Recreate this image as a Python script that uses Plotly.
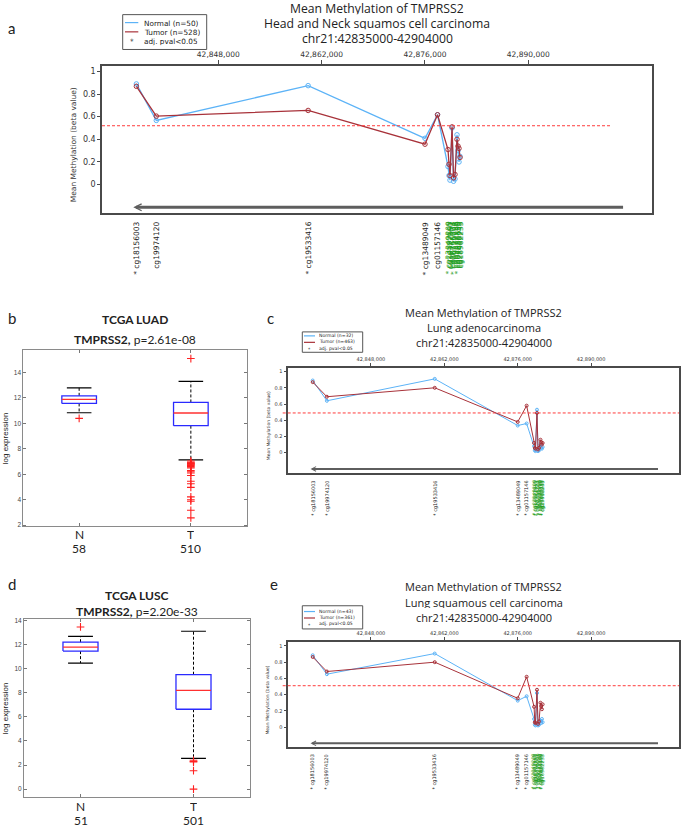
import plotly.graph_objects as go

FIG_W, FIG_H = 685, 826


def fx(p):
    return p / FIG_W


def fy(p):
    return 1 - p / FIG_H


# ---------------- data ----------------
region_start, region_end = 42835000, 42904000
gene_start, gene_end = 42836478, 42903043
genome_ticks = [42848000, 42862000, 42876000, 42890000]
genome_tick_labels = ["42,848,000", "42,862,000", "42,876,000", "42,890,000"]

probe_ids = ["cg18156003", "cg19974120", "cg19533416", "cg13489049", "cg01157146",
             "cg23349209", "cg14597545", "cg16371860", "cg26256223", "cg06795004",
             "cg09279736", "cg04986899", "cg07681350", "cg25416948", "cg16962233"]
probe_pos = [42836900, 42839600, 42860170, 42876000, 42877700,
             42879120, 42879260, 42879390, 42879670, 42879870,
             42880070, 42880340, 42880480, 42880610, 42880750]
probe_in_island = [False, False, False, False, False,
                   True, True, True, True, True, True, True, True, True, True]

hnsc_normal = [0.889, 0.567, 0.874, 0.409, 0.617, 0.16, 0.08, 0.04, 0.50, 0.03, 0.05, 0.44, 0.30, 0.20, 0.25]
hnsc_tumor = [0.868, 0.605, 0.655, 0.357, 0.617, 0.31, 0.18, 0.08, 0.51, 0.06, 0.09, 0.40, 0.34, 0.32, 0.24]
hnsc_sig = [True, False, True, True, False, True, False, False, False, True, False, True, False, False, False]
hnsc_threshold = 0.52
hnsc_n = (50, 528)

luad_normal = [0.89, 0.64, 0.91, 0.335, 0.36, 0.08, 0.03, 0.02, 0.53, 0.02, 0.03, 0.10, 0.06, 0.05, 0.07]
luad_tumor = [0.87, 0.69, 0.80, 0.38, 0.58, 0.12, 0.06, 0.05, 0.49, 0.04, 0.06, 0.16, 0.13, 0.10, 0.12]
luad_sig = [True] * 15
luad_threshold = 0.49
luad_n = (32, 463)

lusc_normal = [0.885, 0.652, 0.906, 0.326, 0.38, 0.10, 0.03, 0.02, 0.42, 0.02, 0.03, 0.08, 0.05, 0.10, 0.06]
lusc_tumor = [0.864, 0.685, 0.80, 0.355, 0.62, 0.25, 0.06, 0.05, 0.46, 0.04, 0.07, 0.30, 0.26, 0.22, 0.28]
lusc_sig = [True] * 15
lusc_threshold = 0.51
lusc_n = (43, 361)

beta_ticks = [0, 0.2, 0.4, 0.6, 0.8, 1]
beta_tick_labels = ["0", "0.2", "0.4", "0.6", "0.8", "1"]

box_groups = ["N", "T"]
luad_counts = [58, 510]
luad_q1 = [11.57, 9.82]
luad_median = [11.89, 10.82]
luad_q3 = [12.17, 11.65]
luad_lower = [10.84, 7.14]
luad_upper = [12.80, 13.30]
luad_out_N = [10.4]
luad_out_T = [15.1, 7.05, 6.95, 6.9, 6.85, 6.8, 6.75, 6.7, 6.6, 6.5, 6.3, 6.2, 6.1, 5.9,
              5.45, 5.25, 4.97, 4.22, 4.0, 3.88, 3.17, 2.57]
luad_p = "2.61e-08"

lusc_counts = [51, 501]
lusc_q1 = [11.47, 6.64]
lusc_median = [11.80, 8.21]
lusc_q3 = [12.21, 9.51]
lusc_lower = [10.48, 2.56]
lusc_upper = [12.70, 13.12]
lusc_out_N = [13.48]
lusc_out_T = [2.4, 2.3, 2.25, 1.53, 0.0]
lusc_p = "2.20e-33"

expr_ticks = [0, 2, 4, 6, 8, 10, 12, 14]

# ---------------- style ----------------
BLUE = "#5cb3f7"
RED = "#a8323a"
GREEN = "#1f9e1f"
FRAME = "#4a4a4a"
TXT = "#222222"
MFONT = "DejaVu Sans"
TFONT = "Open Sans"
BFONT = "Lato"

fig = go.Figure()
layout = dict(width=FIG_W, height=FIG_H, margin=dict(l=0, r=0, t=0, b=0),
              paper_bgcolor="white", plot_bgcolor="white", showlegend=False)
annotations = []
shapes = []

xr = [region_start - 0.04 * (region_end - region_start),
      region_end + 0.04 * (region_end - region_start)]

meth_panels = [
    dict(top=1, probe=2, y=1, box=(102, 64, 652, 212),
         title_y=[6, 21, 36], title_size=12.2, subtitle="Head and Neck squamos cell carcinoma",
         leg_box=(122.7, 12.7, 206.7, 47.7), leg_rows=[20.7, 30, 39], leg_font=7.3,
         leg_line=(125, 138.3), leg_text_x=143, tick_font=7.5, ytick_font=8,
         ytitle_x=73, ytitle_font=7.5, label_top=220, label_font=7.5, msize=4.5,
         ticklen=4, thr_x=(102, 610), arrow_w=3, lw=1.3, frame_w=1.5,
         normal=hnsc_normal, tumor=hnsc_tumor, sig=hnsc_sig, thr=hnsc_threshold, n=hnsc_n),
    dict(top=3, probe=4, y=2, box=(288.3, 367.3, 679, 473.3),
         title_y=[312, 327, 342], title_size=11, subtitle="Lung adenocarcinoma",
         leg_box=(302.3, 331.5, 362.7, 352), leg_rows=[335.5, 342, 348.5], leg_font=4.6,
         leg_line=(304, 315), leg_text_x=318, tick_font=5, ytick_font=5,
         ytitle_x=268, ytitle_font=4.5, label_top=480, label_font=5, msize=3,
         ticklen=3, thr_x=(282.7, 679), arrow_w=2, lw=1.0, frame_w=1.5,
         normal=luad_normal, tumor=luad_tumor, sig=luad_sig, thr=luad_threshold, n=luad_n),
    dict(top=5, probe=6, y=3, box=(288.3, 643, 679, 749),
         title_y=[587, 603, 618], title_size=11, subtitle="Lung squamous cell carcinoma",
         leg_box=(302.3, 606.7, 362.7, 630), leg_rows=[612.5, 619, 625.5], leg_font=4.6,
         leg_line=(304, 315), leg_text_x=318, tick_font=5, ytick_font=5,
         ytitle_x=268, ytitle_font=4.5, label_top=755, label_font=5, msize=3,
         ticklen=3, thr_x=(282.7, 679), arrow_w=2, lw=1.0, frame_w=1.5,
         normal=lusc_normal, tumor=lusc_tumor, sig=lusc_sig, thr=lusc_threshold, n=lusc_n),
]


def axname(letter, i):
    return letter + "axis" + ("" if i == 1 else str(i))


def axref(letter, i):
    return letter + ("" if i == 1 else str(i))


for P in meth_panels:
    x0, y0, x1, y1 = P["box"]
    xt, xp, yy = axref("x", P["top"]), axref("x", P["probe"]), axref("y", P["y"])
    layout[axname("x", P["top"])] = dict(
        domain=[fx(x0), fx(x1)], range=xr, side="top", anchor=yy,
        tickmode="array", tickvals=genome_ticks, ticktext=genome_tick_labels,
        ticks="outside", ticklen=P["ticklen"], tickcolor=FRAME,
        tickfont=dict(family=MFONT, size=P["tick_font"], color="#333"),
        showline=True, mirror=True, linecolor=FRAME, linewidth=P["frame_w"],
        showgrid=False, zeroline=False, fixedrange=True)
    layout[axname("x", P["probe"])] = dict(
        overlaying=xt, side="bottom", anchor=yy, range=xr,
        tickmode="array", tickvals=probe_pos, ticks="outside", ticklen=P["ticklen"],
        tickcolor="#333", showticklabels=False, showline=False, showgrid=False,
        zeroline=False, fixedrange=True)
    layout[axname("y", P["y"])] = dict(
        domain=[fy(y1), fy(y0)], range=[-0.25, 1.05], anchor=xt,
        tickmode="array", tickvals=beta_ticks, ticktext=beta_tick_labels,
        ticks="outside", ticklen=3, tickcolor=FRAME,
        tickfont=dict(family=MFONT, size=P["ytick_font"], color="#333"),
        showline=True, mirror=True, linecolor=FRAME, linewidth=P["frame_w"],
        showgrid=False, zeroline=False, fixedrange=True)

    for vals, col in ((P["normal"], BLUE), (P["tumor"], RED)):
        fig.add_trace(go.Scatter(
            x=probe_pos, y=vals, xaxis=xt, yaxis=yy, mode="lines+markers",
            line=dict(color=col, width=P["lw"]),
            marker=dict(symbol="circle-open", size=P["msize"], color=col, line=dict(width=1)),
            hoverinfo="skip"))

    # threshold
    shapes.append(dict(type="line", xref="paper", yref=yy, x0=fx(P["thr_x"][0]), x1=fx(P["thr_x"][1]),
                       y0=P["thr"], y1=P["thr"], line=dict(color="#ff3b3b", width=1, dash="3px,2px")))
    # gene arrow
    annotations.append(dict(xref=xt, yref=yy, x=gene_start, y=-0.2, axref=xt, ayref=yy,
                            ax=gene_end, ay=-0.2, text="", showarrow=True, arrowhead=5,
                            arrowsize=0.45, arrowwidth=P["arrow_w"], arrowcolor="#5e5e5e", standoff=0))
    # probe labels
    for pid, pos, isl, s in zip(probe_ids, probe_pos, probe_in_island, P["sig"]):
        annotations.append(dict(
            xref=xt, yref="paper", x=pos, y=fy(P["label_top"]), xanchor="center", yanchor="top",
            text=("* " if s else "") + pid, textangle=-90, showarrow=False, borderpad=0,
            font=dict(family=MFONT, size=P["label_font"], color=GREEN if isl else "#222")))
    # titles
    cx = (x0 + x1) / 2
    for txt, ty in zip(["Mean Methylation of TMPRSS2", P["subtitle"], "chr21:42835000-42904000"], P["title_y"]):
        annotations.append(dict(xref="paper", yref="paper", x=fx(cx), y=fy(ty), xanchor="center",
                                yanchor="middle", text=txt, showarrow=False, height=P["title_size"],
                                borderpad=0,
                                font=dict(family=TFONT, size=P["title_size"], color=TXT)))
    # y title
    annotations.append(dict(xref="paper", yref="paper", x=fx(P["ytitle_x"]), y=fy((y0 + y1) / 2 + 6),
                            xanchor="center", yanchor="middle", text="Mean Methylation (beta value)",
                            textangle=-90, showarrow=False,
                            font=dict(family=MFONT, size=P["ytitle_font"], color="#333")))
    # legend
    lx0, ly0, lx1, ly1 = P["leg_box"]
    shapes.append(dict(type="rect", xref="paper", yref="paper", x0=fx(lx0), x1=fx(lx1), y0=fy(ly1), y1=fy(ly0),
                       line=dict(color="#555", width=1), fillcolor="white"))
    la, lb = P["leg_line"]
    for col, ry in ((BLUE, P["leg_rows"][0]), (RED, P["leg_rows"][1])):
        shapes.append(dict(type="line", xref="paper", yref="paper", x0=fx(la), x1=fx(lb), y0=fy(ry), y1=fy(ry),
                           line=dict(color=col, width=1.2)))
    annotations.append(dict(xref="paper", yref="paper", x=fx((la + lb) / 2), y=fy(P["leg_rows"][2] + 1),
                            xanchor="center", yanchor="middle", text="*", showarrow=False,
                            font=dict(family=MFONT, size=P["leg_font"], color="#222")))
    for txt, ry in zip([f"Normal (n={P['n'][0]})", f"Tumor (n={P['n'][1]})", "adj. pval<0.05"], P["leg_rows"]):
        annotations.append(dict(xref="paper", yref="paper", x=fx(P["leg_text_x"]), y=fy(ry),
                                xanchor="left", yanchor="middle", text=txt, showarrow=False,
                                height=P["leg_font"] + 1, borderpad=0,
                                font=dict(family=MFONT, size=P["leg_font"], color="#222")))

# ---------------- box plots ----------------
box_panels = [
    dict(x=7, y=4, box=(23.3, 350, 246.7, 526.7), yr=[1.92, 15.75], title_y=[319, 339],
         label_y=535, count_y=549, name="TCGA LUAD", p=luad_p, counts=luad_counts,
         q1=luad_q1, med=luad_median, q3=luad_q3, lo=luad_lower, hi=luad_upper,
         outs=[luad_out_N, luad_out_T]),
    dict(x=8, y=5, box=(24, 620, 250, 799.3), yr=[-0.69, 14.14], title_y=[596, 612.3],
         label_y=807.5, count_y=821.5, name="TCGA LUSC", p=lusc_p, counts=lusc_counts,
         q1=lusc_q1, med=lusc_median, q3=lusc_q3, lo=lusc_lower, hi=lusc_upper,
         outs=[lusc_out_N, lusc_out_T]),
]
HW, CW = 0.155, 0.11

for B in box_panels:
    x0, y0, x1, y1 = B["box"]
    xa, ya = axref("x", B["x"]), axref("y", B["y"])
    layout[axname("x", B["x"])] = dict(
        domain=[fx(x0), fx(x1)], range=[0.5, 2.5], anchor=ya, tickmode="array", tickvals=[1, 2],
        showticklabels=False, ticks="inside", ticklen=3, tickcolor="#777", showline=True, mirror="ticks",
        linecolor="#8a8a8a", linewidth=1, showgrid=False, zeroline=False, fixedrange=True)
    layout[axname("y", B["y"])] = dict(
        domain=[fy(y1), fy(y0)], range=B["yr"], anchor=xa, tickmode="array",
        tickvals=[t for t in expr_ticks if B["yr"][0] <= t <= B["yr"][1]],
        ticks="inside", ticklen=3, tickcolor="#777", showline=True, mirror="ticks",
        linecolor="#8a8a8a", linewidth=1, tickfont=dict(family="Liberation Sans", size=6.5, color="#444"),
        showgrid=False, zeroline=False, fixedrange=True)
    bx, by, wx, wy, cx_, cy_, mx, my = [], [], [], [], [], [], [], []
    for i in range(2):
        c = i + 1
        bx += [c - HW, c + HW, c + HW, c - HW, c - HW, None]
        by += [B["q1"][i], B["q1"][i], B["q3"][i], B["q3"][i], B["q1"][i], None]
        wx += [c, c, None, c, c, None]
        wy += [B["q3"][i], B["hi"][i], None, B["q1"][i], B["lo"][i], None]
        cx_ += [c - CW, c + CW, None, c - CW, c + CW, None]
        cy_ += [B["hi"][i], B["hi"][i], None, B["lo"][i], B["lo"][i], None]
        mx += [c - HW, c + HW, None]
        my += [B["med"][i], B["med"][i], None]
    fig.add_trace(go.Scatter(x=wx, y=wy, xaxis=xa, yaxis=ya, mode="lines",
                             line=dict(color="black", width=1, dash="3px,2px"), hoverinfo="skip"))
    fig.add_trace(go.Scatter(x=cx_, y=cy_, xaxis=xa, yaxis=ya, mode="lines",
                             line=dict(color="black", width=1.2), hoverinfo="skip"))
    fig.add_trace(go.Scatter(x=bx, y=by, xaxis=xa, yaxis=ya, mode="lines",
                             line=dict(color="#2a2aff", width=1.3), hoverinfo="skip"))
    fig.add_trace(go.Scatter(x=mx, y=my, xaxis=xa, yaxis=ya, mode="lines",
                             line=dict(color="#ff3030", width=1.3), hoverinfo="skip"))
    ox, oy = [], []
    for i in range(2):
        ox += [i + 1] * len(B["outs"][i])
        oy += B["outs"][i]
    fig.add_trace(go.Scatter(x=ox, y=oy, xaxis=xa, yaxis=ya, mode="markers",
                             marker=dict(symbol="cross-thin-open", size=5.5, color="#ff2020",
                                         line=dict(width=1.1, color="#ff2020")), hoverinfo="skip"))
    ccx = (x0 + x1) / 2
    annotations.append(dict(xref="paper", yref="paper", x=fx(ccx), y=fy(B["title_y"][0]), xanchor="center",
                            yanchor="middle", text="<b>" + B["name"] + "</b>", showarrow=False,
                            font=dict(family=BFONT, size=12, color=TXT)))
    annotations.append(dict(xref="paper", yref="paper", x=fx(ccx), y=fy(B["title_y"][1]), xanchor="center",
                            yanchor="middle", text="<b>TMPRSS2,</b> p=" + B["p"], showarrow=False,
                            font=dict(family=BFONT, size=12, color=TXT)))
    annotations.append(dict(xref="paper", yref="paper", x=fx(5), y=fy((y0 + y1) / 2), xanchor="center",
                            yanchor="middle", text="log expression", textangle=-90, showarrow=False,
                            font=dict(family="Liberation Sans", size=8, color=TXT)))
    for i, g in enumerate(box_groups):
        annotations.append(dict(xref=xa, yref="paper", x=i + 1, y=fy(B["label_y"]), xanchor="center",
                                yanchor="middle", text=g, showarrow=False, height=12, borderpad=0,
                                font=dict(family=BFONT, size=12, color=TXT)))
        annotations.append(dict(xref=xa, yref="paper", x=i + 1, y=fy(B["count_y"]), xanchor="center",
                                yanchor="middle", text=str(B["counts"][i]), showarrow=False,
                                height=12, borderpad=0,
                                font=dict(family=BFONT, size=12, color=TXT)))

# panel letters
for letter, lx, ly in (("a", 11, 26), ("b", 12, 318), ("c", 270, 318), ("d", 12, 585), ("e", 274, 585)):
    annotations.append(dict(xref="paper", yref="paper", x=fx(lx), y=fy(ly), xanchor="center",
                            yanchor="middle", text=letter, showarrow=False,
                            font=dict(family=BFONT, size=15, color=TXT)))

layout["annotations"] = annotations
layout["shapes"] = shapes
fig.update_layout(**layout)
fig.write_html("out.html", config={"displayModeBar": False},
               post_script="document.body.style.margin='0';document.body.style.overflow='hidden';")
